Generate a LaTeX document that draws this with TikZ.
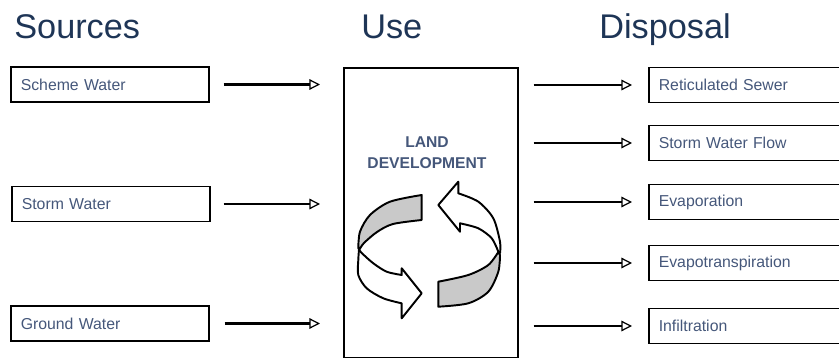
\documentclass[tikz,border=0pt]{standalone}
\usepackage{fontspec}
\setmainfont{Liberation Sans}
\usetikzlibrary{arrows.meta}
\usepackage{xcolor}

\definecolor{titleblue}{HTML}{1E3556}
\definecolor{labelblue}{HTML}{45577A}
\definecolor{ribbongray}{HTML}{C9C9C9}

\tikzset{
  heading/.style={anchor=base west, inner sep=0pt, text=titleblue, font=\fontsize{19.5}{23}\selectfont},
  srcbox/.style={draw, line width=0.9pt, anchor=west, inner xsep=0.2cm, text width=3.56cm,
    minimum height=0.7cm, align=left, text=labelblue, font=\fontsize{9}{11}\selectfont},
  dspbox/.style={srcbox, text width=3.9cm},
  flow/.style={line width=0.8pt, -{Triangle[open, length=6pt, width=6pt, line width=0.7pt]}},
  heavyflow/.style={flow, line width=1.7pt},
  ribbon/.style={draw=black, line width=1.1pt, line join=round},
}

\begin{document}
\begin{tikzpicture}[x=0.02cm, y=-0.02cm]

\clip (0,0) rectangle (839,358);

% Column titles
\node[heading] (sources) at (14,38.5) {Sources};
\node[heading] (use) at (361,38.5) {Use};
\node[heading] (disposal) at (599,38.5) {Disposal};

% Source boxes
\node[srcbox] (scheme) at (10,84.5) {Scheme Water};
\node[srcbox] (storm) at (11,204) {Storm Water};
\node[srcbox] (ground) at (10,323.5) {Ground Water};

% Land development box
\node[draw, line width=0.9pt, anchor=north west, inner sep=0pt,
  minimum width=3.48cm, minimum height=5.8cm] (land) at (343,67) {};
\node[align=center, text=labelblue, font=\bfseries\fontsize{8.9}{12}\selectfont]
  (landlabel) at (427,153) {LAND\\DEVELOPMENT};

% Disposal boxes
\node[dspbox] (sewer) at (648,85) {Reticulated Sewer};
\node[dspbox] (stormflow) at (648,143) {Storm Water Flow};
\node[dspbox] (evap) at (648,202) {Evaporation};
\node[dspbox] (evapotr) at (648,263) {Evapotranspiration};
\node[dspbox] (infil) at (648,326) {Infiltration};

% Inflows
\draw[heavyflow, shorten <=0.28cm, shorten >=0.46cm] (scheme.east) -- (scheme.east -| land.west);
\draw[flow, shorten <=0.26cm, shorten >=0.46cm] (storm.east) -- (storm.east -| land.west);
\draw[heavyflow, shorten <=0.3cm, shorten >=0.46cm] (ground.east) -- (ground.east -| land.west);

% Outflows
\draw[flow, shorten <=0.3cm, shorten >=0.32cm] (land.east |- sewer.west) -- (sewer.west);
\draw[flow, shorten <=0.3cm, shorten >=0.32cm] (land.east |- stormflow.west) -- (stormflow.west);
\draw[flow, shorten <=0.3cm, shorten >=0.32cm] (land.east |- evap.west) -- (evap.west);
\draw[flow, shorten <=0.3cm, shorten >=0.32cm] (land.east |- evapotr.west) -- (evapotr.west);
\draw[heavyflow, shorten <=0.3cm, shorten >=0.32cm] (land.east |- infil.west) -- (infil.west);

% Cycle symbol: back of the ribbons (grey)
\filldraw[ribbon, fill=ribbongray]
  plot[smooth] coordinates {(421.7,195) (390,201.7) (370,215) (360,231.7) (358.3,248.3)}
  -- plot[smooth] coordinates {(359.5,249.5) (364,243) (377,232) (393,224) (421.7,220)}
  -- cycle;
\filldraw[ribbon, fill=ribbongray]
  plot[smooth] coordinates {(438.3,281.7) (468.3,275) (488.3,265) (498.3,252)}
  -- plot[smooth] coordinates {(500,255) (498.3,271.7) (488.3,291.7) (468.3,303.3) (438.3,306.7)}
  -- cycle;

% Cycle symbol: front of the ribbons (white, with heads)
\filldraw[ribbon, fill=white]
  plot[smooth] coordinates {(359,249.5) (358.3,260) (358.3,275) (366.7,288.3) (383.3,298.3) (401.7,303.3)}
  -- (401.7,318.3) -- (421.7,293.3) -- (401.7,268.3) -- (401.7,275)
  -- plot[smooth] coordinates {(401.7,275) (386.7,271.7) (373.3,263.3) (361.7,253) (359,249.5)}
  -- cycle;
\filldraw[ribbon, fill=white]
  plot[smooth] coordinates {(500,253) (500,241.7) (493.3,218.3) (478.3,201.7) (458.3,193.3)}
  -- (458.3,181.7) -- (438.3,205) -- (460,231.7) -- (460,223.3)
  -- plot[smooth] coordinates {(460,223.3) (478.3,228.3) (491.7,238.3) (498.3,251.7)}
  -- cycle;

\end{tikzpicture}
\end{document}
